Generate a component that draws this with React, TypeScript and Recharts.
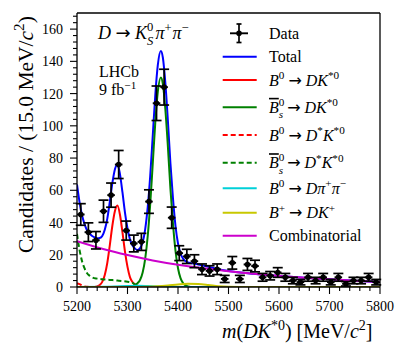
import React from 'react';
import {
  ComposedChart, Line, Scatter, ErrorBar, XAxis, YAxis, ReferenceLine,
} from 'recharts';

// binned data, 15 MeV bins
const binCentres = [
  5207.5, 5222.5, 5237.5, 5252.5, 5267.5, 5282.5, 5297.5, 5312.5, 5327.5, 5342.5,
  5357.5, 5372.5, 5387.5, 5402.5, 5417.5, 5432.5, 5447.5, 5462.5, 5477.5, 5492.5,
  5507.5, 5522.5, 5537.5, 5552.5, 5567.5, 5582.5, 5597.5, 5612.5, 5627.5, 5642.5,
  5657.5, 5672.5, 5687.5, 5702.5, 5717.5, 5732.5, 5747.5, 5762.5, 5777.5, 5792.5,
];
const counts = [
  45, 34, 29, 47, 57, 76, 35, 27, 28, 53,
  114, 124, 43, 21, 19, 16, 11, 10, 11, 5,
  15, 5, 14, 13, 6, 7, 9, 6, 4, 3,
  6, 4, 6, 3, 6, 2, 4, 4, 6, 3,
];
const countErrors = [
  6.7, 5.8, 5.4, 6.9, 7.5, 8.7, 5.9, 5.2, 5.3, 7.3,
  10.7, 11.1, 6.6, 4.6, 4.4, 4, 3.3, 3.2, 3.3, 2.2,
  3.9, 2.2, 3.7, 3.6, 2.4, 2.6, 3, 2.4, 2, 1.7,
  2.4, 2, 2.4, 1.7, 2.4, 1.4, 2, 2, 2.4, 1.7,
];
const binHalfWidth = 7.5;

// fit curves
const totalX = [5200, 5205, 5210, 5215, 5220, 5225, 5230, 5235, 5240, 5245, 5250, 5255, 5260, 5265, 5270, 5275, 5280, 5285, 5290, 5295, 5300, 5305, 5310, 5315, 5320, 5325, 5330, 5335, 5340, 5345, 5350, 5355, 5360, 5366, 5370, 5375, 5380, 5385, 5390, 5395, 5400, 5405, 5410, 5415, 5420, 5440, 5460, 5480, 5500, 5550, 5600, 5650, 5700, 5750, 5800];
const totalY = [63.6, 52.7, 44.5, 38.9, 35.1, 33.1, 31.6, 30.8, 30.2, 30.4, 31.7, 35.5, 42.4, 52.9, 64.4, 72.9, 76.2, 70.2, 58.8, 46.2, 36.3, 29.4, 25.8, 23.8, 22.9, 24.1, 27.8, 35.8, 49.4, 69, 93.8, 119, 137.7, 146.5, 142.4, 126.3, 103, 76.8, 55.1, 38, 27, 20.8, 17.6, 16, 15.3, 14, 12.6, 11, 9.95, 8.2, 6.9, 5.8, 4.8, 3.9, 3.1];

const b0X = [5200, 5235, 5240, 5245, 5250, 5255, 5260, 5265, 5270, 5275, 5280, 5285, 5290, 5295, 5300, 5305, 5310, 5315, 5320, 5330, 5340, 5800];
const b0Y = [0, 0.05, 0.4, 1.2, 3.2, 7.5, 15, 26, 38, 47, 50.5, 45, 34, 22, 12.5, 6, 3, 1.6, 0.8, 0.2, 0, 0];

const bsX = [5200, 5300, 5310, 5315, 5320, 5325, 5330, 5335, 5340, 5345, 5350, 5355, 5360, 5366, 5370, 5375, 5380, 5385, 5390, 5395, 5400, 5405, 5410, 5415, 5420, 5430, 5800];
const bsY = [0, 0.1, 0.5, 1.2, 2.4, 4.5, 9, 17.5, 31.5, 51.5, 76.5, 102, 121, 130, 126, 110, 87, 61, 39.5, 22.5, 11.6, 5.5, 2.4, 1, 0.4, 0, 0];

const b0StarX = [5200, 5205, 5210, 5215, 5220, 5230, 5800];
const b0StarY = [2.2, 1.8, 1.0, 0.4, 0.1, 0, 0];

const bsStarX = [5200, 5205, 5210, 5215, 5220, 5225, 5230, 5240, 5250, 5260, 5270, 5280, 5290, 5300, 5305, 5310, 5315, 5320, 5330, 5800];
const bsStarY = [33, 23, 16, 11.5, 8.5, 7, 6, 5.2, 4.8, 4.5, 4.3, 4.0, 3.7, 3.3, 3.0, 2.5, 1.4, 0.4, 0, 0];

const dpipiX = [5200, 5260, 5280, 5300, 5320, 5340, 5360, 5380, 5400, 5800];
const dpipiY = [0, 0.1, 0.3, 0.6, 0.8, 0.6, 0.3, 0.1, 0, 0];

const dkX = [5200, 5320, 5340, 5360, 5380, 5400, 5420, 5440, 5460, 5480, 5500, 5530, 5560, 5800];
const dkY = [0, 0, 0.2, 0.5, 1.0, 1.6, 2.0, 1.9, 1.3, 0.5, 0.15, 0.05, 0, 0];

const combX = [5200, 5250, 5300, 5350, 5400, 5450, 5500, 5550, 5600, 5650, 5700, 5750, 5800];
const combY = [28.4, 23.7, 19.8, 16.5, 13.8, 11.6, 9.8, 8.2, 6.9, 5.8, 4.8, 3.9, 3.1];

const xMajorTicks = [5200, 5300, 5400, 5500, 5600, 5700, 5800];
const xTicks = Array.from({ length: 31 }, (_, i) => 5200 + i * 20);
const yTicks = Array.from({ length: 43 }, (_, i) => i * 4);

const zip = (xs: number[], ys: number[]) => xs.map((x, i) => ({ x, y: ys[i] }));

const points = binCentres.map((x, i) => ({ x, y: counts[i], ex: binHalfWidth, ey: countErrors[i] }));

const SERIF = '"Liberation Serif", "Times New Roman", serif';
const TICK_SIZE = 7;
const TICK_MARGIN = 2;

type Part = {
  t: string; it?: boolean; ov?: boolean; sup?: string; sub?: string; f?: string; gap?: number;
  supUp?: number; subDown?: number;
};

const ARROW: Part[] = [{ t: ' ' }, { t: '\u2192', f: '"DejaVu Sans"' }, { t: ' ' }];

function MathText({ x, y, parts, fs, anchor = 'start', transform }: {
  x: number; y: number; parts: Part[]; fs: number; anchor?: string; transform?: string;
}) {
  const out: React.ReactNode[] = [];
  let off = 0;
  const small = fs * 0.7;
  parts.forEach((p, i) => {
    out.push(
      <tspan key={i + 'm'} dy={-off} dx={p.gap} fontStyle={p.it ? 'italic' : 'normal'} fontFamily={p.f}
        style={p.ov ? { textDecoration: 'overline' } : undefined}>{p.t}</tspan>
    );
    off = 0;
    if (p.sup) {
      const d = -fs * (p.supUp ?? 0.4);
      out.push(<tspan key={i + 'p'} fontSize={small} dy={d} fontStyle="normal">{p.sup}</tspan>);
      off = d;
    }
    if (p.sub) {
      const target = fs * (p.subDown ?? 0.28);
      const dx = p.sup ? -p.sup.length * small * 0.5 : 0;
      out.push(<tspan key={i + 'b'} fontSize={small} dx={dx} dy={target - off} fontStyle="italic">{p.sub}</tspan>);
      off = target;
    }
  });
  return (
    <text x={x} y={y} fontSize={fs} fontFamily={SERIF} fill="#000" textAnchor={anchor} transform={transform}>
      {out}
    </text>
  );
}

const YTick = (props: any) => {
  const { x, y, payload } = props;
  const ax = x + TICK_SIZE + TICK_MARGIN;
  const major = payload.value % 20 === 0;
  return (
    <g>
      <line x1={ax} x2={ax - (major ? 7 : 4)} y1={y} y2={y} stroke="#000" strokeWidth={1.1} />
      {major && payload.value <= 160 && (
        <text x={ax - 14} y={y} dy="0.36em" textAnchor="end" fontFamily={SERIF} fontSize={14} fill="#000">
          {payload.value}
        </text>
      )}
    </g>
  );
};

const XTick = (props: any) => {
  const { x, y, payload } = props;
  const ay = y - TICK_SIZE - TICK_MARGIN;
  const major = xMajorTicks.includes(payload.value);
  return (
    <g>
      <line x1={x} x2={x} y1={ay} y2={ay + (major ? 7 : 4)} stroke="#000" strokeWidth={1.1} />
      {major && (
        <text x={x} y={ay + 23.7} textAnchor="middle" fontFamily={SERIF} fontSize={14} fill="#000">
          {payload.value}
        </text>
      )}
    </g>
  );
};

const Dot = (props: any) => <circle cx={props.cx} cy={props.cy} r={2.8} fill="#000" />;

const legendRows: { color: string; dash?: boolean; parts: Part[]; y: number }[] = [
  { color: '#0000ff', parts: [{ t: 'Total' }], y: 48.7 },
  { color: '#ff0000', parts: [{ t: 'B', it: true, sup: '0' }, ...ARROW, { t: 'DK', it: true, sup: '*0' }], y: 72 },
  { color: '#008000', parts: [{ t: 'B', it: true, ov: true, sup: '0', sub: 's', supUp: 0.45, subDown: 0.35 }, ...ARROW, { t: 'DK', it: true, sup: '*0' }], y: 99.3 },
  { color: '#ff0000', dash: true, parts: [{ t: 'B', it: true, sup: '0' }, ...ARROW, { t: 'D', it: true, sup: '*' }, { t: 'K', it: true, sup: '*0' }], y: 127 },
  { color: '#008000', dash: true, parts: [{ t: 'B', it: true, ov: true, sup: '0', sub: 's', supUp: 0.45, subDown: 0.35 }, ...ARROW, { t: 'D', it: true, sup: '*' }, { t: 'K', it: true, sup: '*0' }], y: 154.7 },
  { color: '#00d0d8', parts: [{ t: 'B', it: true, sup: '0' }, ...ARROW, { t: 'Dπ', it: true, sup: '+' }, { t: 'π', it: true, sup: '−' }], y: 180.3 },
  { color: '#c8c800', parts: [{ t: 'B', it: true, sup: '+' }, ...ARROW, { t: 'DK', it: true, sup: '+' }], y: 204.7 },
  { color: '#cc00cc', parts: [{ t: 'Combinatorial' }], y: 227.7 },
];

export default function App() {
  const W = 392;
  const H = 340;
  return (
    <div style={{ position: 'relative', width: W, height: H }}>
      <ComposedChart width={W} height={H} data={points} margin={{ top: 5, right: 20, left: 0, bottom: 0 }}>
        <XAxis dataKey="x" type="number" domain={[5200, 5800]} ticks={xTicks} interval={0}
          allowDataOverflow height={61} tickSize={TICK_SIZE} tickMargin={TICK_MARGIN}
          tickLine={false} tick={<XTick />} axisLine={{ stroke: '#000', strokeWidth: 1.3 }} />
        <YAxis type="number" domain={[0, 170]} ticks={yTicks} interval={0} allowDataOverflow
          width={69} tickSize={TICK_SIZE} tickMargin={TICK_MARGIN}
          tickLine={false} tick={<YTick />} axisLine={{ stroke: '#000', strokeWidth: 1.3 }} />
        <ReferenceLine y={170} stroke="#000" strokeWidth={1.3} />
        <ReferenceLine x={5800} stroke="#000" strokeWidth={1.3} />

        <Line data={zip(totalX, totalY)} dataKey="y" type="monotone" stroke="#0000ff" strokeWidth={2} dot={false} isAnimationActive={false} />
        <Line data={zip(b0X, b0Y)} dataKey="y" type="monotone" stroke="#ff0000" strokeWidth={2} dot={false} isAnimationActive={false} />
        <Line data={zip(bsX, bsY)} dataKey="y" type="monotone" stroke="#008000" strokeWidth={2} dot={false} isAnimationActive={false} />
        <Line data={zip(b0StarX, b0StarY)} dataKey="y" type="monotone" stroke="#ff0000" strokeWidth={2} strokeDasharray="5 3" dot={false} isAnimationActive={false} />
        <Line data={zip(bsStarX, bsStarY)} dataKey="y" type="monotone" stroke="#008000" strokeWidth={2} strokeDasharray="5 3" dot={false} isAnimationActive={false} />
        <Line data={zip(dpipiX, dpipiY)} dataKey="y" type="monotone" stroke="#00d0d8" strokeWidth={2} dot={false} isAnimationActive={false} />
        <Line data={zip(dkX, dkY)} dataKey="y" type="monotone" stroke="#c8c800" strokeWidth={2} dot={false} isAnimationActive={false} />
        <Line data={zip(combX, combY)} dataKey="y" type="monotone" stroke="#cc00cc" strokeWidth={2} dot={false} isAnimationActive={false} />

        <Scatter data={points} dataKey="y" shape={<Dot />} isAnimationActive={false}>
          <ErrorBar dataKey="ey" direction="y" width={5} stroke="#000" strokeWidth={1.7} />
          <ErrorBar dataKey="ex" direction="x" width={0} stroke="#000" strokeWidth={1.9} />
        </Scatter>
      </ComposedChart>

      <svg width={W} height={H} style={{ position: 'absolute', left: 0, top: 0, pointerEvents: 'none' }}>
        <MathText x={-245} y={25} fs={21.5} anchor="start" transform="rotate(-90)"
          parts={[{ t: 'Candidates / (15.0 MeV/' }, { t: 'c', it: true, sup: '2' }, { t: ')' }]} />
        <MathText x={214} y={330} fs={20} anchor="start"
          parts={[{ t: 'm', it: true }, { t: '(' }, { t: 'DK', it: true, sup: '*0' }, { t: ') [MeV/' }, { t: 'c', it: true, sup: '2' }, { t: ']' }]} />

        <MathText x={90} y={31} fs={18}
          parts={[{ t: 'D', it: true }, ...ARROW, { t: 'K', it: true, sup: '0', sub: 'S', supUp: 0.46, subDown: 0.36 }, { t: 'π', it: true, sup: '+', gap: 2 }, { t: 'π', it: true, sup: '−', gap: 1 }]} />
        <text x={91} y={69} fontFamily={SERIF} fontSize={16}>LHCb</text>
        <MathText x={91} y={87} fs={16} parts={[{ t: '9 fb', sup: '−1' }]} />

        {/* legend */}
        <g>
          <line x1={222} x2={240} y1={25.3} y2={25.3} stroke="#000" strokeWidth={1.9} />
          <line x1={231} x2={231} y1={16} y2={34.5} stroke="#000" strokeWidth={1.7} />
          <line x1={228.5} x2={233.5} y1={16} y2={16} stroke="#000" strokeWidth={1.7} />
          <line x1={228.5} x2={233.5} y1={34.5} y2={34.5} stroke="#000" strokeWidth={1.7} />
          <circle cx={231} cy={25.3} r={2.8} fill="#000" />
          <text x={261} y={30.8} fontFamily={SERIF} fontSize={16}>Data</text>
        </g>
        {legendRows.map((r, i) => (
          <g key={i}>
            <line x1={214.7} x2={248.7} y1={r.y} y2={r.y} stroke={r.color} strokeWidth={2}
              strokeDasharray={r.dash ? '5 3' : undefined} />
            <MathText x={261} y={r.y + 5.5} fs={16} parts={r.parts} />
          </g>
        ))}
      </svg>
    </div>
  );
}
